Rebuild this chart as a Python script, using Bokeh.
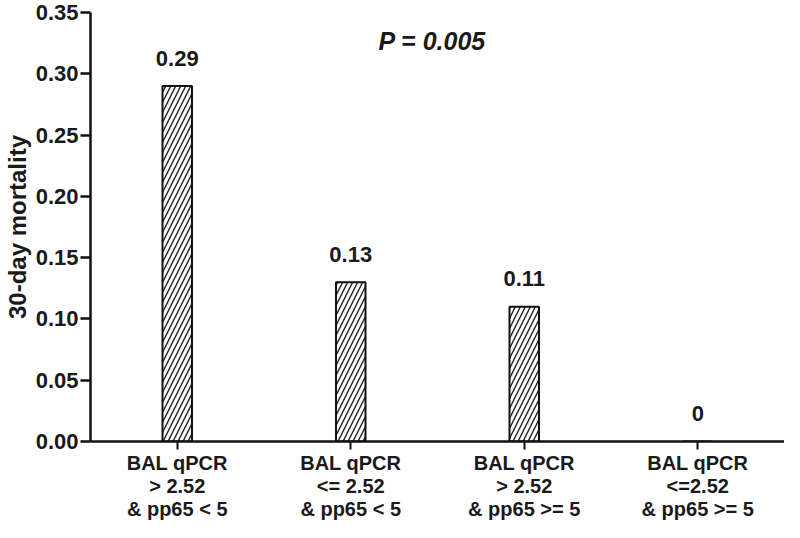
from bokeh.plotting import figure
from bokeh.models import ColumnDataSource, FixedTicker, NumeralTickFormatter, LabelSet, Range1d, Label
from bokeh.core.properties import value
from bokeh.embed import file_html
from bokeh.resources import INLINE

categories = ["BAL qPCR\n> 2.52\n& pp65 < 5",
              "BAL qPCR\n<= 2.52\n& pp65 < 5",
              "BAL qPCR\n> 2.52\n& pp65 >= 5",
              "BAL qPCR\n<=2.52\n& pp65 >= 5"]
mortality = [0.29, 0.13, 0.11, 0.0]
value_labels = ["0.29", "0.13", "0.11", "0"]
y_ticks = [0.0, 0.05, 0.10, 0.15, 0.20, 0.25, 0.30, 0.35]
p_text = "P = 0.005"

FONT = "Liberation Sans"
TXT = "#1a1a1a"

xs = list(range(len(categories)))
src = ColumnDataSource(dict(x=xs, top=mortality, lab=value_labels))

p = figure(width=784, height=522, output_backend="svg", toolbar_location=None,
           x_range=Range1d(-0.5, len(categories) - 0.5), y_range=Range1d(0, 0.35),
           min_border_left=85, min_border_top=12, min_border_bottom=76, min_border_right=0)
p.outline_line_color = None
p.xgrid.visible = False
p.ygrid.visible = False

p.vbar(x="x", top="top", width=0.17, source=src, fill_color="white",
       line_color="#111111", line_width=2,
       hatch_pattern="/", hatch_color="#222222", hatch_scale=10, hatch_weight=1.4)

labels = LabelSet(x="x", y="top", text="lab", source=src, y_offset=28,
                  text_align="center", text_baseline="middle",
                  text_font=value(FONT), text_font_size=value("22px"),
                  text_font_style=value("bold"), text_color=value(TXT))
p.add_layout(labels)

p.add_layout(Label(x=1.47, y=0.327, text=p_text, text_align="center", text_baseline="middle",
                   text_font=FONT, text_font_size="25px", text_font_style="bold italic",
                   text_color=TXT))

# y axis
ya = p.yaxis[0]
ya.ticker = FixedTicker(ticks=y_ticks)
ya.formatter = NumeralTickFormatter(format="0.00")
ya.axis_label = "30-day mortality"
ya.axis_label_text_font = FONT
ya.axis_label_text_font_size = "24px"
ya.axis_label_text_font_style = "bold"
ya.axis_label_text_color = TXT
ya.axis_label_standoff = 2
ya.major_label_text_font = FONT
ya.major_label_text_font_size = "22px"
ya.major_label_text_font_style = "bold"
ya.major_label_text_color = TXT
ya.major_label_standoff = 2
ya.axis_line_width = 2.5
ya.axis_line_color = "#111111"
ya.major_tick_line_width = 2.5
ya.major_tick_line_color = "#111111"
ya.major_tick_out = 10
ya.major_tick_in = 0
ya.minor_tick_line_color = None

# x axis
xa = p.xaxis[0]
xa.ticker = FixedTicker(ticks=xs)
xa.major_label_overrides = {i: c for i, c in zip(xs, categories)}
xa.major_label_text_font = FONT
xa.major_label_text_font_size = "20px"
xa.major_label_text_font_style = "bold"
xa.major_label_text_color = TXT
xa.major_label_text_line_height = 1.05
xa.major_label_standoff = 2
xa.axis_line_width = 2.5
xa.axis_line_color = "#111111"
xa.major_tick_line_width = 2
xa.major_tick_line_color = "#111111"
xa.major_tick_out = 8
xa.major_tick_in = 0
xa.minor_tick_line_color = None

open("out.html", "w").write(file_html(p, INLINE))
